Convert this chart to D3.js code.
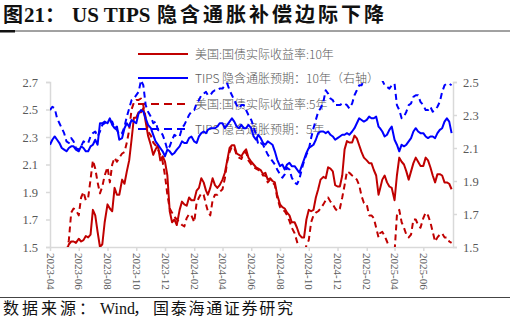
<!DOCTYPE html>
<html><head><meta charset="utf-8">
<script src="https://cdn.jsdelivr.net/npm/d3@7"></script>
<style>html,body{margin:0;padding:0;background:#fff;}svg{display:block;}</style>
</head><body>
<svg id="c" width="510" height="325"></svg>
<script>
const dates = [
"2023-04-01","2023-04-06","2023-04-11","2023-04-16","2023-04-21","2023-04-26",
"2023-05-01","2023-05-06","2023-05-11","2023-05-16","2023-05-21","2023-05-26",
"2023-06-01","2023-06-06","2023-06-11","2023-06-16","2023-06-21","2023-06-26",
"2023-07-01","2023-07-06","2023-07-11","2023-07-16","2023-07-21","2023-07-26",
"2023-08-01","2023-08-06","2023-08-11","2023-08-16","2023-08-21","2023-08-26",
"2023-09-01","2023-09-06","2023-09-11","2023-09-16","2023-09-21","2023-09-26",
"2023-10-01","2023-10-06","2023-10-11","2023-10-16","2023-10-21","2023-10-26",
"2023-11-01","2023-11-06","2023-11-11","2023-11-16","2023-11-21","2023-11-26",
"2023-12-01","2023-12-06","2023-12-11","2023-12-16","2023-12-21","2023-12-26",
"2024-01-01","2024-01-06","2024-01-11","2024-01-16","2024-01-21","2024-01-26",
"2024-02-01","2024-02-06","2024-02-11","2024-02-16","2024-02-21","2024-02-26",
"2024-03-01","2024-03-06","2024-03-11","2024-03-16","2024-03-21","2024-03-26",
"2024-04-01","2024-04-06","2024-04-11","2024-04-16","2024-04-21","2024-04-26",
"2024-05-01","2024-05-06","2024-05-11","2024-05-16","2024-05-21","2024-05-26",
"2024-06-01","2024-06-06","2024-06-11","2024-06-16","2024-06-21","2024-06-26",
"2024-07-01","2024-07-06","2024-07-11","2024-07-16","2024-07-21","2024-07-26",
"2024-08-01","2024-08-06","2024-08-11","2024-08-16","2024-08-21","2024-08-26",
"2024-09-01","2024-09-06","2024-09-11","2024-09-16","2024-09-21","2024-09-26",
"2024-10-01","2024-10-06","2024-10-11","2024-10-16","2024-10-21","2024-10-26",
"2024-11-01","2024-11-06","2024-11-11","2024-11-16","2024-11-21","2024-11-26",
"2024-12-01","2024-12-06","2024-12-11","2024-12-16","2024-12-21","2024-12-26",
"2025-01-01","2025-01-06","2025-01-11","2025-01-16","2025-01-21","2025-01-26",
"2025-02-01","2025-02-06","2025-02-11","2025-02-16","2025-02-21","2025-02-26",
"2025-03-01","2025-03-06","2025-03-11","2025-03-16","2025-03-21","2025-03-26",
"2025-04-01","2025-04-06","2025-04-11","2025-04-16","2025-04-21","2025-04-26",
"2025-05-01","2025-05-06","2025-05-11","2025-05-16","2025-05-21","2025-05-26",
"2025-06-01","2025-06-06","2025-06-11","2025-06-16","2025-06-21","2025-06-26",
"2025-07-01","2025-07-06","2025-07-11","2025-07-16","2025-07-21","2025-07-26",
"2025-07-31"];

// 美国:国债实际收益率:10年 (left axis)
const real10 = [
1.35,1.33,1.30,1.36,1.38,1.40,1.42,1.47,1.52,1.54,1.54,1.53,1.56,1.54,1.55,1.58,1.57,1.59,1.77,1.73,
1.61,1.50,1.52,1.68,1.81,1.78,1.76,1.93,1.88,1.88,1.99,1.96,2.05,2.13,2.28,2.44,2.44,2.48,2.48,2.51,
2.41,2.31,2.24,2.17,2.21,2.24,2.13,2.16,2.12,2.02,1.76,1.68,1.70,1.66,1.77,1.83,1.81,1.80,1.86,1.84,
1.84,1.91,1.93,2.00,1.97,1.91,1.88,1.93,2.00,1.95,1.93,1.95,1.99,2.04,2.13,2.22,2.24,2.24,2.18,2.17,
2.16,2.19,2.21,2.15,2.12,2.10,2.08,2.07,2.06,2.03,2.04,1.99,2.00,1.98,1.97,1.88,1.81,1.79,1.78,1.75,
1.73,1.68,1.68,1.64,1.59,1.57,1.57,1.70,1.77,1.76,1.77,1.86,1.92,1.99,2.01,2.00,2.08,2.07,2.05,1.95,
1.94,1.94,2.02,2.21,2.27,2.26,2.26,2.31,2.29,2.24,2.19,2.15,2.13,2.11,2.11,2.06,2.02,1.88,1.92,1.99,
2.02,1.97,1.94,1.93,1.84,2.02,2.15,2.12,2.10,2.05,1.99,2.05,2.11,2.15,2.12,2.09,2.09,2.15,2.13,2.08,
2.02,1.97,2.03,2.03,2.02,1.97,1.97,1.96,1.92];
// TIPS 隐含通胀预期：10年 (right axis)
const tips10 = [
2.12,2.15,2.17,2.15,2.13,2.10,2.09,2.08,2.10,2.11,2.11,2.09,2.08,2.11,2.10,2.08,2.08,2.11,2.12,2.15,
2.12,2.25,2.25,2.26,2.25,2.28,2.24,2.22,2.23,2.15,2.16,2.22,2.25,2.23,2.27,2.26,2.25,2.31,2.33,2.32,
2.28,2.24,2.22,2.18,2.14,2.12,2.10,2.08,2.05,2.09,2.08,2.06,2.07,2.09,2.11,2.14,2.13,2.13,2.16,2.17,
2.14,2.13,2.17,2.19,2.20,2.19,2.21,2.22,2.22,2.22,2.23,2.25,2.25,2.22,2.24,2.26,2.28,2.26,2.23,2.22,
2.24,2.22,2.22,2.24,2.22,2.17,2.15,2.18,2.16,2.13,2.12,2.14,2.13,2.12,2.08,2.03,1.99,2.00,1.97,2.00,
2.01,1.99,1.99,1.97,1.95,1.99,2.03,2.07,2.10,2.11,2.12,2.15,2.19,2.20,2.20,2.19,2.20,2.18,2.17,2.15,
2.16,2.17,2.18,2.18,2.19,2.18,2.20,2.22,2.25,2.28,2.27,2.26,2.27,2.29,2.28,2.28,2.29,2.23,2.22,2.20,
2.17,2.18,2.21,2.23,2.15,2.12,2.08,2.12,2.11,2.12,2.14,2.16,2.20,2.22,2.20,2.19,2.19,2.17,2.16,2.17,
2.17,2.16,2.19,2.21,2.22,2.26,2.28,2.26,2.19];
// 美国:国债实际收益率:5年 (left axis)
const real5 = [
1.30,1.28,1.25,1.28,1.32,1.36,1.40,1.45,1.55,1.75,1.78,1.77,1.73,1.86,1.90,1.84,1.86,1.99,2.13,2.07,
1.97,1.89,1.94,2.02,2.08,1.97,2.10,2.15,2.12,2.15,2.18,2.19,2.26,2.35,2.50,2.55,2.57,2.57,2.58,2.53,
2.44,2.34,2.31,2.26,2.24,2.21,2.17,2.12,2.02,1.88,1.78,1.75,1.72,1.70,1.68,1.66,1.65,1.71,1.74,1.73,
1.68,1.82,1.86,1.89,1.88,1.81,1.76,1.73,1.84,1.88,1.88,1.90,1.92,2.00,2.12,2.19,2.23,2.22,2.17,2.15,
2.14,2.18,2.19,2.13,2.10,2.08,2.07,2.06,2.05,2.02,2.02,1.97,1.99,1.97,1.95,1.86,1.79,1.77,1.76,1.73,
1.69,1.64,1.60,1.54,1.48,1.47,1.46,1.51,1.55,1.68,1.73,1.75,1.76,1.78,1.81,1.84,1.86,1.83,1.81,1.78,
1.76,1.78,1.86,1.95,2.05,2.04,2.02,2.01,1.99,1.95,1.87,1.82,1.81,1.73,1.73,1.71,1.64,1.57,1.60,1.61,
1.58,1.54,1.49,1.48,1.46,1.73,1.77,1.68,1.64,1.59,1.57,1.59,1.70,1.70,1.66,1.64,1.71,1.75,1.73,1.68,
1.61,1.54,1.57,1.59,1.60,1.57,1.57,1.54,1.53];
// TIPS 隐含通胀预期：5年 (right axis)
const tips5 = [
2.33,2.35,2.34,2.28,2.25,2.22,2.19,2.14,2.13,2.16,2.14,2.10,2.09,2.11,2.14,2.13,2.13,2.17,2.19,2.20,
2.17,2.20,2.24,2.25,2.26,2.26,2.26,2.22,2.21,2.18,2.19,2.23,2.29,2.34,2.39,2.40,2.42,2.44,2.51,2.48,
2.36,2.32,2.29,2.25,2.26,2.21,2.20,2.18,2.14,2.09,2.11,2.15,2.18,2.17,2.17,2.22,2.24,2.27,2.30,2.32,
2.33,2.37,2.39,2.42,2.43,2.44,2.42,2.42,2.44,2.45,2.45,2.46,2.46,2.48,2.49,2.45,2.42,2.39,2.36,2.34,
2.36,2.36,2.33,2.30,2.27,2.23,2.18,2.12,2.13,2.12,2.09,2.06,2.04,2.02,2.00,1.97,1.94,1.92,1.94,1.98,
1.97,1.92,1.89,1.88,1.91,1.97,2.02,2.06,2.09,2.16,2.22,2.27,2.32,2.34,2.38,2.45,2.43,2.40,2.39,2.36,
2.36,2.36,2.37,2.37,2.36,2.34,2.37,2.42,2.45,2.48,2.48,2.51,2.52,2.54,2.54,2.54,2.53,2.52,2.52,2.51,
2.48,2.47,2.46,2.48,2.49,2.36,2.33,2.28,2.29,2.32,2.36,2.37,2.41,2.42,2.42,2.38,2.36,2.33,2.33,2.35,
2.32,2.33,2.35,2.38,2.44,2.48,2.49,2.49,2.48];

const leftTicks = [1.5,1.7,1.9,2.1,2.3,2.5,2.7];
const rightTicks = [1.5,1.7,1.9,2.1,2.3,2.5];
const xTickLabels = ["2023-04","2023-06","2023-08","2023-10","2023-12","2024-02","2024-04","2024-06","2024-08","2024-10","2024-12","2025-02","2025-04","2025-06"];
const seriesNames = ["美国:国债实际收益率:10年","TIPS 隐含通胀预期：10年（右轴）","美国:国债实际收益率:5年","TIPS 隐含通胀预期：5年"];

const parse = d3.timeParse("%Y-%m-%d");
const dts = dates.map(parse);
const svg = d3.select("#c");
const L = 50, R = 453, T = 82, B = 247;
const x = d3.scaleTime().domain([parse("2023-04-01"), parse("2025-08-03")]).range([L, R]);
const yL = d3.scaleLinear().domain([1.5, 2.7]).range([B, T]);
const yR = d3.scaleLinear().domain([1.5, 2.5]).range([B, T]);
const grey = "#595959", axisC = "#d9d9d9";
const serif = "'Liberation Serif','Times New Roman',serif";
const cjk = "'Noto Sans CJK SC','Liberation Serif',serif";

// title
const title = svg.append("g").attr("font-weight", "bold").attr("fill", "#111");
title.append("text").attr("x", 3).attr("y", 22).attr("font-family", cjk).attr("font-size", 20).text("图");
title.append("text").attr("x", 24).attr("y", 22).attr("font-family", serif).attr("font-size", 21).text("21");
title.append("text").attr("x", 45).attr("y", 22).attr("font-family", cjk).attr("font-size", 20).text("：");
title.append("text").attr("x", 72).attr("y", 22).attr("font-family", serif).attr("font-size", 21).text("US TIPS");
title.append("text").attr("x", 157).attr("y", 22).attr("font-family", cjk).attr("font-size", 20)
  .attr("textLength", 227).attr("lengthAdjust", "spacing").text("隐含通胀补偿边际下降");
svg.append("line").attr("x1", 0).attr("x2", 510).attr("y1", 31).attr("y2", 31).attr("stroke", "#444").attr("stroke-width", 1);
svg.append("rect").attr("x", 0).attr("y", 30).attr("width", 15).attr("height", 2.5).attr("fill", "#111");

// footer
svg.append("line").attr("x1", 0).attr("x2", 510).attr("y1", 297.5).attr("y2", 297.5).attr("stroke", "#444").attr("stroke-width", 1);
const foot = svg.append("g").attr("fill", "#111").attr("font-size", 16);
foot.append("text").attr("x", 3).attr("y", 314).attr("font-family", cjk).attr("textLength", 92).attr("lengthAdjust", "spacing").text("数据来源：");
foot.append("text").attr("x", 100).attr("y", 314).attr("font-family", serif).text("Wind");
foot.append("text").attr("x", 133).attr("y", 314).attr("font-family", cjk).text("，");
foot.append("text").attr("x", 153).attr("y", 314).attr("font-family", cjk).attr("textLength", 140).attr("lengthAdjust", "spacing").text("国泰海通证券研究");

// axes
const axL = svg.append("g").attr("transform", `translate(${L},0)`)
  .call(d3.axisLeft(yL).tickValues(leftTicks).tickFormat(d3.format(".1f")).tickSize(4).tickPadding(8));
const axR = svg.append("g").attr("transform", `translate(${R},0)`)
  .call(d3.axisRight(yR).tickValues(rightTicks).tickFormat(d3.format(".1f")).tickSize(4).tickPadding(6));
const axB = svg.append("g").attr("transform", `translate(0,${B})`)
  .call(d3.axisBottom(x).tickValues(xTickLabels.map(s => parse(s + "-01"))).tickFormat(d3.timeFormat("%Y-%m")).tickSize(4).tickSizeOuter(0));
[axL, axR, axB].forEach(a => {
  a.select(".domain").attr("stroke", axisC).attr("stroke-width", 1.5);
  a.selectAll(".tick line").attr("stroke", axisC).attr("stroke-width", 1.5);
  a.selectAll("text").attr("fill", grey).attr("font-family", serif).attr("font-size", 12.5);
});
axB.selectAll("text").attr("font-size", 11).attr("text-anchor", "start")
  .attr("transform", "rotate(90)").attr("x", 6).attr("y", 0).attr("dy", "0.35em");

// legend
const legY = [54, 78, 104, 129];
const legStyle = [
  {c: "#C00000", d: null}, {c: "#0000FF", d: null},
  {c: "#C00000", d: "8,5"}, {c: "#0000FF", d: "8,5"}];
const leg = svg.append("g");
seriesNames.forEach((n, i) => {
  leg.append("line").attr("x1", 138).attr("x2", 188).attr("y1", legY[i]).attr("y2", legY[i])
    .attr("stroke", legStyle[i].c).attr("stroke-width", 2.2).attr("stroke-dasharray", legStyle[i].d);
  leg.append("text").attr("x", 195).attr("y", legY[i] + 4.5).attr("fill", grey)
    .attr("font-family", cjk).attr("font-size", 12).attr("font-weight", 300).text(n);
});

// lines
svg.append("defs").append("clipPath").attr("id", "clip").append("rect")
  .attr("x", L).attr("y", T - 1).attr("width", R - L).attr("height", B - T + 1);
const g = svg.append("g").attr("clip-path", "url(#clip)");
const mk = (vals, ys) => d3.line().x((d, i) => x(dts[i])).y(d => ys(d))(vals);
const series = [
  {v: real5, s: yL, c: "#C00000", d: "6,4"},
  {v: real10, s: yL, c: "#C00000", d: null},
  {v: tips10, s: yR, c: "#0000FF", d: null},
  {v: tips5, s: yR, c: "#0000FF", d: "6,4"}];
series.forEach(se => {
  g.append("path").attr("d", mk(se.v, se.s)).attr("fill", "none").attr("stroke", se.c)
    .attr("stroke-width", 2).attr("stroke-linejoin", "round").attr("stroke-dasharray", se.d);
});
</script>
</body></html>
